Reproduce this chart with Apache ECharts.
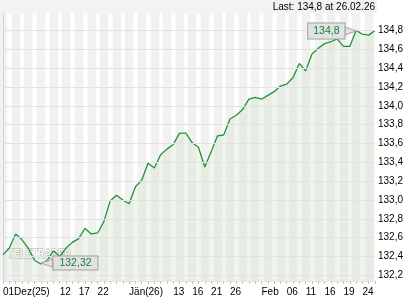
<!DOCTYPE html>
<html>
<head>
<meta charset="utf-8">
<script src="https://cdn.jsdelivr.net/npm/echarts@6/dist/echarts.min.js"></script>
<style>html,body{margin:0;padding:0;background:#fff}#c{width:420px;height:300px}</style>
</head>
<body>
<div id="c"></div>
<script>
// ---- data ----
var dates = [
 '01.12.25','02.12.25','03.12.25','04.12.25','05.12.25','08.12.25','09.12.25','10.12.25','11.12.25','12.12.25',
 '15.12.25','16.12.25','17.12.25','18.12.25','19.12.25','22.12.25','23.12.25','29.12.25','30.12.25','31.12.25',
 '02.01.26','05.01.26','06.01.26','07.01.26','08.01.26','09.01.26','12.01.26','13.01.26','14.01.26','15.01.26',
 '16.01.26','19.01.26','20.01.26','21.01.26','22.01.26','23.01.26','26.01.26','27.01.26','28.01.26','29.01.26',
 '30.01.26','02.02.26','03.02.26','04.02.26','05.02.26','06.02.26','09.02.26','10.02.26','11.02.26','12.02.26',
 '13.02.26','16.02.26','17.02.26','18.02.26','19.02.26','20.02.26','23.02.26','24.02.26','25.02.26','26.02.26'
];
var prices = [
 132.42,132.49,132.64,132.58,132.49,132.36,132.32,132.36,132.46,132.40,
 132.49,132.55,132.59,132.70,132.64,132.65,132.77,132.99,133.05,133.00,
 132.96,133.14,133.21,133.39,133.34,133.48,133.54,133.59,133.71,133.71,
 133.61,133.56,133.35,133.51,133.68,133.69,133.86,133.90,133.96,134.07,
 134.09,134.07,134.11,134.15,134.21,134.23,134.30,134.45,134.37,134.55,
 134.61,134.66,134.68,134.71,134.63,134.63,134.80,134.76,134.75,134.80
];
var xLabelDates = ['01.12.25','12.12.25','17.12.25','22.12.25','02.01.26','13.01.26','16.01.26','21.01.26','26.01.26','02.02.26','06.02.26','11.02.26','16.02.26','19.02.26','24.02.26'];
var xLabelTexts = ['01Dez(25)','12','17','22','Jän(26)','13','16','21','26','Feb','06','11','16','19','24'];
var yTicks = [132.2,132.4,132.6,132.8,133.0,133.2,133.4,133.6,133.8,134.0,134.2,134.4,134.6,134.8];

// ---- chart ----
function fmt(v){ return String(Math.round(v*100)/100).replace('.', ','); }
function fmtTick(v){ return v.toFixed(1).replace('.', ','); }
var FONT = 'Liberation Sans, Arial, sans-serif';
var maxVal = Math.max.apply(null, prices);
var maxIdx = prices.indexOf(maxVal);
var lastVal = prices[prices.length-1];
var lastDate = dates[dates.length-1];

var chart = echarts.init(document.getElementById('c'), null, {renderer:'canvas'});
chart.setOption({
  animation: false,
  backgroundColor: '#ffffff',
  textStyle: {fontFamily: FONT},
  grid: {left: 3, right: 45, top: 13, bottom: 19},
  xAxis: [{
    type: 'category',
    data: dates,
    boundaryGap: false,
    axisLine: {show: true, lineStyle: {color: '#e6e6e6'}},
    axisTick: {show: true, interval: 0, length: 3, lineStyle: {color: '#c4c4c4'}},
    axisLabel: {
      interval: function(i, v){ return xLabelDates.indexOf(v) >= 0; },
      formatter: function(v){ var k = xLabelDates.indexOf(v); return k >= 0 ? xLabelTexts[k] : ''; },
      align: 'left', margin: 6, color: '#000', fontSize: 10, fontFamily: FONT
    },
    splitLine: {show: false}
  }, {
    type: 'value', min: 0, max: dates.length - 1, interval: 2,
    position: 'top',
    axisLine: {show: false}, axisTick: {show: false}, axisLabel: {show: false},
    splitLine: {show: true, showMaxLine: false, lineStyle: {color: '#f1f1f1', width: 8.4}}
  }],
  yAxis: {
    type: 'value', position: 'right',
    min: 132.14, max: 134.985,
    axisLine: {show: true, lineStyle: {color: '#d2d2d2'}},
    axisTick: {show: true, customValues: yTicks, length: 4, lineStyle: {color: '#b8b8b8'}},
    axisLabel: {customValues: yTicks, formatter: fmtTick, color: '#000', fontSize: 10, margin: 3, fontFamily: FONT},
    splitLine: {show: false}
  },
  series: [{
    type: 'line',
    xAxisIndex: 0,
    data: prices,
    showSymbol: false,
    symbol: 'none',
    lineStyle: {color: '#229339', width: 1.3},
    areaStyle: {color: 'rgba(205,222,198,0.42)'},
    markLine: {
      silent: true, symbol: 'none', animation: false,
      label: {show: false},
      lineStyle: {color: '#e3e3e3', type: 'solid', width: 1},
      data: yTicks.map(function(v){ return {yAxis: v}; })
    },
    markPoint: {
      silent: true, animation: false,
      data: [{
        type: 'min',
        symbol: 'path://M0,5L12,0L12,10Z',
        symbolSize: [12, 8], symbolOffset: [6, -1],
        itemStyle: {color: '#e2e2e2', borderColor: '#a0a0a0', borderWidth: 1},
        label: {show: true, position: 'right', distance: 0,
          formatter: function(p){ return fmt(p.value); },
          color: '#1b7d31', fontSize: 10.5, fontFamily: FONT,
          backgroundColor: '#e2e2e2', borderColor: '#a0a0a0', borderWidth: 1,
          padding: [1, 6, 0, 6], lineHeight: 12}
      }, {
        coord: [maxIdx, maxVal], value: maxVal,
        symbol: 'path://M12,5L0,0L0,10Z',
        symbolSize: [11, 8], symbolOffset: [-5.5, 0.5],
        itemStyle: {color: '#e2e2e2', borderColor: '#a0a0a0', borderWidth: 1},
        label: {show: true, position: 'left', distance: 0,
          formatter: function(p){ return fmt(p.value); },
          color: '#1b7d31', fontSize: 10.5, fontFamily: FONT,
          backgroundColor: '#e2e2e2', borderColor: '#a0a0a0', borderWidth: 1,
          padding: [2, 5, 1, 5], lineHeight: 12}
      }]
    },
    z: 3
  }],
  graphic: [{
    type: 'rect', z: -10, silent: true,
    shape: {x: 0, y: 0, width: 377, height: 13},
    style: {fill: '#f3f3f3'}
  }, {
    type: 'text', z: 10, silent: true,
    x: 375, y: 7,
    style: {text: 'Last: ' + fmt(lastVal) + ' at ' + lastDate, fill: '#000',
      font: '10px ' + FONT, textAlign: 'right', textVerticalAlign: 'middle'}
  }, {
    type: 'text', z: 1, silent: true,
    x: 8, y: 248, scaleX: 0.72,
    style: {text: 'TELETRADER', fill: '#ffffff', stroke: '#a4a4a4', lineWidth: 1.2,
      font: 'bold 13px ' + FONT, textAlign: 'left', textVerticalAlign: 'top'}
  }]
});
</script>
</body>
</html>
